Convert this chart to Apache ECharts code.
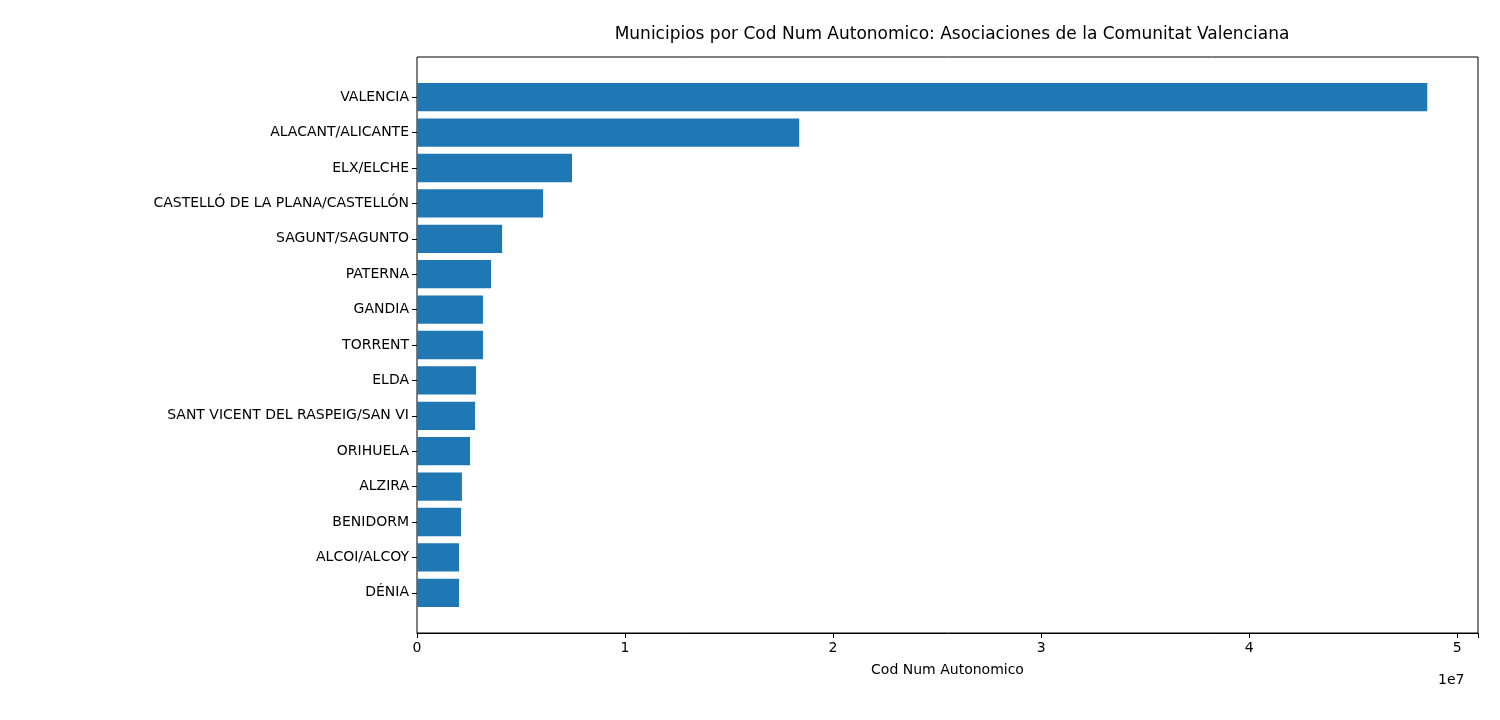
<!DOCTYPE html>
<html>
<head>
<meta charset="utf-8">
<script src="https://cdn.jsdelivr.net/npm/echarts@6/dist/echarts.min.js"></script>
<style>html,body{margin:0;padding:0;background:#fff}#main{width:1500px;height:720px}</style>
</head>
<body>
<div id="main"></div>
<script>
// datos (orden de arriba a abajo)
let municipios = ["VALENCIA","ALACANT/ALICANTE","ELX/ELCHE","CASTELLÓ DE LA PLANA/CASTELLÓN","SAGUNT/SAGUNTO","PATERNA","GANDIA","TORRENT","ELDA","SANT VICENT DEL RASPEIG/SAN VI","ORIHUELA","ALZIRA","BENIDORM","ALCOI/ALCOY","DÉNIA"];
let valores = [48560000,18370000,7450000,6060000,4090000,3560000,3170000,3170000,2840000,2790000,2550000,2160000,2120000,2020000,2020000];
let xTicks = [0,1,2,3,4,5];

let fontFam = 'DejaVu Sans';
let chart = echarts.init(document.getElementById('main'));
let option = {
    animation: false,
    title: {
        text: 'Municipios por Cod Num Autonomico: Asociaciones de la Comunitat Valenciana',
        left: 947, top: 21, textAlign: 'center',
        textStyle: {fontFamily: fontFam, fontSize: 17, fontWeight: 'normal', color: '#000'}
    },
    grid: {left: 417, right: 22, top: 79.5, bottom: 109.5},
    xAxis: {
        type: 'value', min: 0, max: 51000000, interval: 10000000, offset: 22.5,
        name: 'Cod Num Autonomico', nameLocation: 'middle', nameGap: 30,
        nameTextStyle: {fontFamily: fontFam, fontSize: 14, color: '#000'},
        axisLine: {show: true, lineStyle: {color: '#000'}},
        axisTick: {show: true, length: 5, lineStyle: {color: '#000'}},
        axisLabel: {fontFamily: fontFam, fontSize: 14, color: '#000', margin: 8,
            formatter: function (v) { return xTicks.indexOf(v / 1e7) >= 0 ? String(v / 1e7) : ''; }},
        splitLine: {show: false}
    },
    yAxis: {
        type: 'category', data: municipios, inverse: true,
        axisLine: {show: false},
        axisTick: {show: true, alignWithLabel: true, length: 5, lineStyle: {color: '#000'}},
        axisLabel: {fontFamily: fontFam, fontSize: 14, color: '#000', margin: 8}
    },
    series: [{
        type: 'bar', data: valores, barWidth: 28.3,
        itemStyle: {color: '#1f77b4'}
    }],
    graphic: [
        {type: 'rect', shape: {x: 417, y: 57, width: 1061, height: 576}, silent: true,
         style: {fill: 'none', stroke: '#000', lineWidth: 1}},
        {type: 'text', x: 1438, y: 673, style: {text: '1e7', fontFamily: fontFam, fontSize: 14, fill: '#000'}}
    ]
};
chart.setOption(option);
</script>
</body>
</html>
